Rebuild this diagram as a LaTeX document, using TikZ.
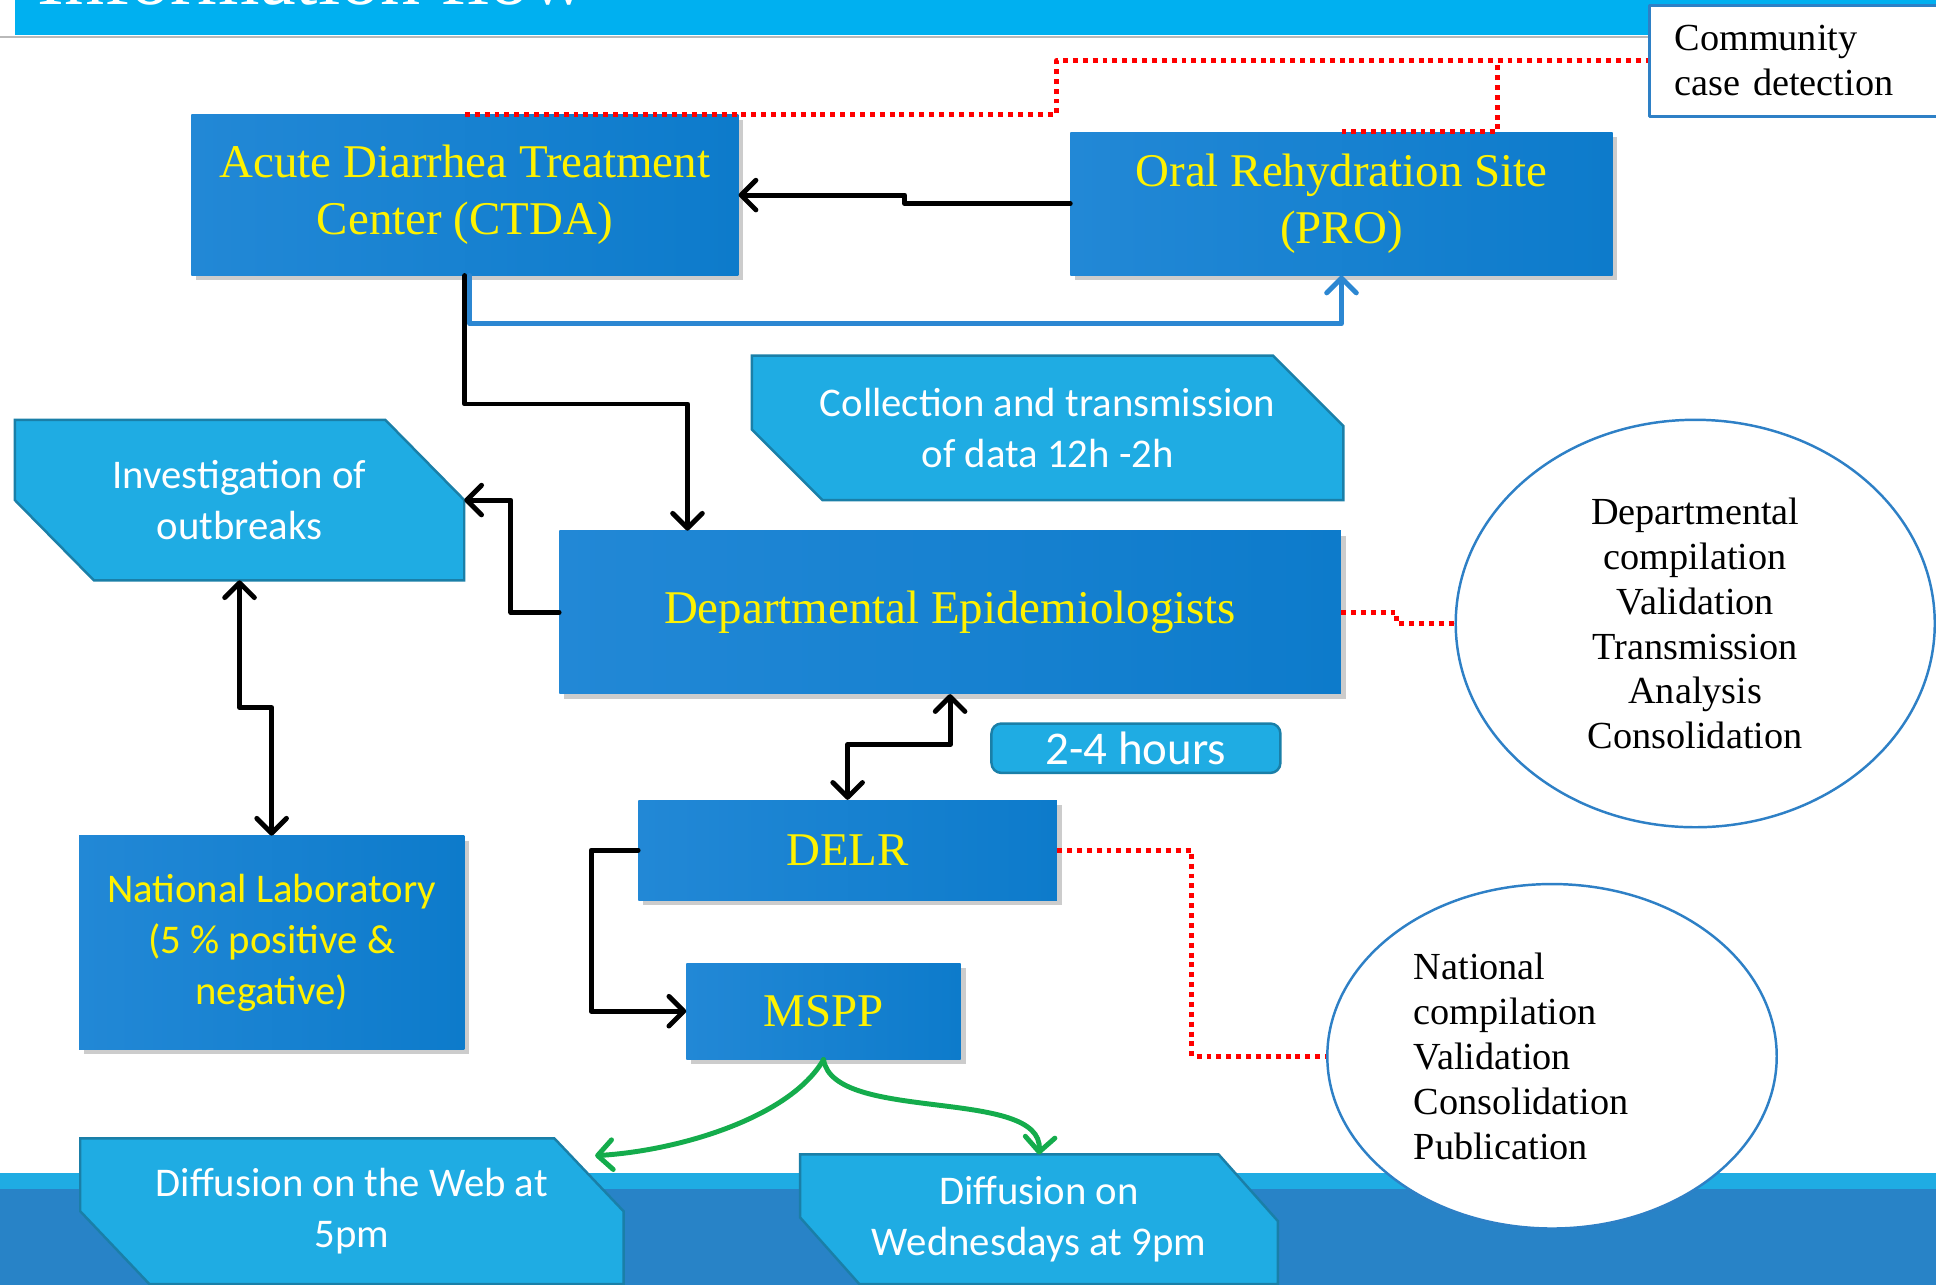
\documentclass[tikz,border=0pt]{standalone}
\usepackage{fontspec}
\setmainfont{Liberation Serif}
\newfontfamily\calibri{Carlito}
\usetikzlibrary{arrows.meta,shapes.geometric,shadows,backgrounds}
\definecolor{headblue}{HTML}{00B0F0}
\definecolor{boxL}{HTML}{2288D6}
\definecolor{boxR}{HTML}{0D7BCB}
\definecolor{lightblue}{HTML}{1FACE3}
\definecolor{edgeblue}{HTML}{1A7FA8}
\definecolor{bandblue}{HTML}{2883C7}
\definecolor{ringblue}{HTML}{2E80C6}
\definecolor{linkblue}{HTML}{2C87D2}
\definecolor{arrowgreen}{HTML}{14AC4C}
% cut-corner frame behind a named node: node, x cut, y cut
\newcommand\cutframe[3]{%
	\begin{pgfonlayer}{background}
		\filldraw[fill=lightblue, draw=edgeblue, line width=2pt] (#1.north west) -- ([xshift=-#2]#1.north east) -- ([yshift=-#3]#1.north east)
			-- (#1.south east) -- ([xshift=#2]#1.south west) -- ([yshift=#3]#1.south west) -- cycle;
	\end{pgfonlayer}}
\begin{document}
\begin{tikzpicture}[x=1pt, y=-1pt, line join=round, line cap=round,
	>={Straight Barb[length=12pt,width=24pt,round]},
	darkbox/.style={rectangle, left color=boxL, right color=boxR, text=yellow, align=center, inner sep=0pt,
		font=\fontsize{38}{46}\selectfont, drop shadow={shadow xshift=4pt, shadow yshift=-4pt, opacity=.4}},
	cutbox/.style={rectangle, text=white, align=center, inner sep=0pt, outer sep=0pt, font=\calibri\fontsize{33}{41.5}\selectfont},
	ringbox/.style={ellipse, fill=white, draw=ringblue, line width=2pt, inner sep=0pt, font=\fontsize{31}{36.3}\selectfont},
	link/.style={line width=4pt, ->},
	twoway/.style={line width=4pt, <->},
	reddot/.style={red, line width=4pt, line cap=butt, dash pattern=on 4pt off 4pt}]
	\useasboundingbox (0,0) rectangle (1568,1040);
	% header and footer bands
	\begin{pgfonlayer}{background}
		\fill[headblue] (12,-80) rectangle (1568,28);
		\draw[gray!55, line width=2pt] (0,30)--(1335,30);
		\fill[lightblue] (0,950) rectangle (1568,963);
		\fill[bandblue] (0,963) rectangle (1568,1060);
	\end{pgfonlayer}
	\node[anchor=base west, text=white, inner sep=0pt, font=\fontsize{65}{70}\selectfont] (title) at (30,4) {Information flow};

	\node[darkbox, minimum width=443pt, minimum height=130pt] (ctda) at (376.5,158) {Acute Diarrhea Treatment\\Center (CTDA)};
	\node[darkbox, minimum width=439pt, minimum height=116pt] (pro) at (1086.5,165) {Oral Rehydration Site\\(PRO)};
	\node[darkbox, minimum width=633pt, minimum height=132pt] (epi) at (769.5,496) {Departmental Epidemiologists};
	\node[darkbox, minimum width=339pt, minimum height=81pt] (delr) at (686.5,688.5) {DELR};
	\node[darkbox, minimum width=222pt, minimum height=78pt] (mspp) at (667,819) {MSPP};
	\node[darkbox, font=\calibri\fontsize{33}{41.5}\selectfont, minimum width=312pt, minimum height=173pt] (lab) at (220,763.5) {National Laboratory\\(5 \% positive \&\\negative)};

	\node[cutbox, minimum width=479pt, minimum height=117pt] (coll) at (848.5,346.5) {Collection and transmission\\of data 12h -2h};
	\node[cutbox, minimum width=364pt, minimum height=130pt] (inv) at (194,405) {Investigation of\\outbreaks};
	\node[cutbox, minimum width=440pt, minimum height=118pt] (web) at (285,981) {Diffusion on the Web at\\5pm};
	\node[cutbox, minimum width=387pt, minimum height=105pt] (wed) at (841.5,987.5) {Diffusion on\\Wednesdays at 9pm};
	\cutframe{coll}{57pt}{57pt}
	\cutframe{inv}{64pt}{65pt}
	\cutframe{web}{56pt}{59pt}
	\cutframe{wed}{48pt}{54pt}
	\node[rectangle, rounded corners=8pt, fill=lightblue, draw=edgeblue, line width=2pt, minimum width=234pt, minimum height=40pt,
		inner sep=0pt, text=white, font=\calibri\fontsize{38}{40}\selectfont] (hours) at (920,606) {2-4 hours};

	\node[ringbox, minimum width=388pt, minimum height=330pt, align=center] (dep) at (1373,505) {Departmental\\compilation\\Validation\\Transmission\\Analysis\\Consolidation};
	\node[ringbox, minimum width=364pt, minimum height=279pt, align=left, text width=224pt] (nat) at (1257,855.5) {National\\compilation\\Validation\\Consolidation\\Publication};
	\node[rectangle, fill=white, draw=ringblue, line width=2.5pt, anchor=north west, minimum width=240pt, minimum height=90pt,
		inner xsep=16pt, text width=200pt, align=left, font=\fontsize{31}{36.3}\selectfont] (comm) at (1335,3) {Community\\case detection};

	% arrows
	\draw[link] (pro.west) -- ++(-134,0) |- (ctda.east);
	\draw[link, linkblue] ([xshift=4pt]ctda.south) -- ++(0,39) -| (pro.south);
	\draw[link] (ctda.south) -- ++(0,104) -| ([xshift=104pt]epi.north west);
	\draw[link] (epi.west) -- ++(-39,0) |- (inv.east);
	\draw[twoway] (epi.south) -- ++(0,41) -| (delr.north);
	\draw[link] (delr.west) -- ++(-38,0) |- (mspp.west);
	\draw[twoway] (inv.south) -- ++(0,103) -| (lab.north);
	\coordinate (webin) at (482,936);
	\draw[link, arrowgreen] (mspp.south) .. controls (640,905) and (550,932) .. (webin);
	\draw[link, arrowgreen] (mspp.south) .. controls (675,910) and (845,880) .. (wed.north);

	% dotted links
	\draw[reddot] (ctda.north) -- ++(479,0) |- (comm.west);
	\draw[reddot] (pro.north) -- ++(126,0) |- (comm.west);
	\draw[reddot] (epi.east) -- ++(45,0) |- (dep.west);
	\draw[reddot] (delr.east) -- ++(109,0) |- (nat.west);
\end{tikzpicture}
\end{document}
